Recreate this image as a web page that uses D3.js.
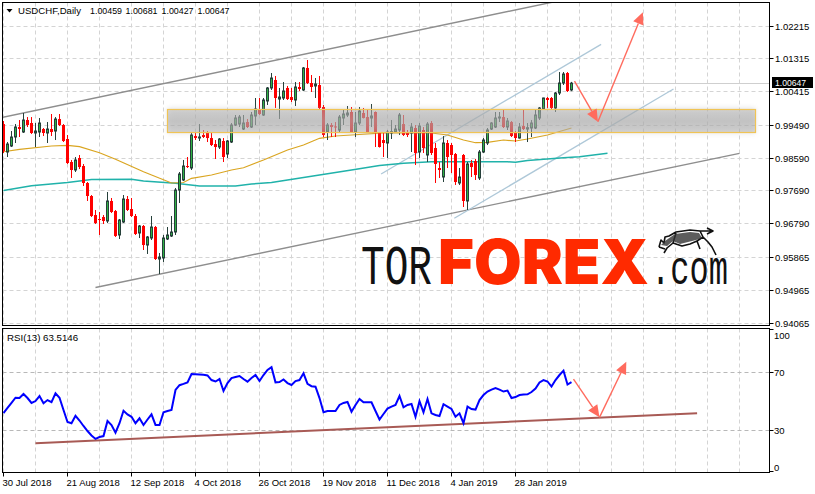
<!DOCTYPE html>
<html><head><meta charset="utf-8">
<script src="https://cdn.jsdelivr.net/npm/d3@7/dist/d3.min.js"></script>
<style>html,body{margin:0;padding:0;background:#fff;overflow:hidden}</style>
</head><body>
<svg id="c" width="815" height="494"></svg>
<script>
// ---------- DATA ----------
const symbolTitle = "USDCHF,Daily";
const titleValues = ["1.00459", "1.00681", "1.00427", "1.00647"];
const open  = [.99525,.98757,.98922,.99169,.99443,.99306,.99635,.99553,.99279,.99306,.99388,.99279,.99388,.99333,.99662,.99498,.99114,.98483,.98263,.98593,.98373,.97907,.97550,.97028,.96919,.96973,.96864,.97413,.97138,.96480,.96836,.97468,.97193,.97001,.96535,.96727,.96205,.96397,.96699,.95821,.95849,.96370,.96452,.96562,.97714,.97989,.98373,.98318,.99196,.99141,.99224,.99279,.99141,.98976,.98894,.99059,.98702,.99031,.99498,.99525,.99388,.99580,.99443,.99745,.99910,.99772,1.00157,1.00514,1.00733,1.00211,1.00239,1.00514,1.00266,1.00184,1.00541,1.00459,1.01063,1.00651,1.00569,1.00596,.99992,.99306,.99498,.99460,.99361,.99690,.99772,.99855,.99306,.99553,.99827,.99717,.99690,.99855,.99279,.99086,.99004,.99279,.99306,.99361,.99525,.99306,.99279,.99416,.98757,.99361,.98675,.99553,.98867,.98318,.98071,.99004,.98949,.98702,.97907,.98675,.97413,.98455,.98510,.98044,.98757,.99004,.99388,.99443,.99690,.99717,.99443,.99580,.99306,.99141,.99470,.99388,.99416,.99416,.99690,.99937,1.00239,1.00239,.99965,1.00376,1.00651,1.00925,1.00459];
const high  = [.99608,.99031,.99333,.99525,.99635,.99827,.99717,.99717,.99553,.99690,.99416,.99580,.99800,.99717,.99800,.99525,.99224,.98538,.98620,.98675,.98428,.97934,.97577,.97166,.97111,.97028,.97660,.97495,.97166,.96919,.97577,.97550,.97495,.97056,.96754,.96754,.96452,.97001,.96727,.95986,.96480,.96699,.97001,.97769,.98209,.98538,.98620,.99279,.99306,.99525,.99361,.99333,.99306,.99086,.99141,.99141,.99086,.99553,.99772,.99772,.99772,.99662,.99855,1.00239,1.00239,1.00239,1.00541,1.00925,1.00843,1.00514,1.00678,1.00569,1.00514,1.00678,1.00678,1.01090,1.01282,1.00870,1.00788,1.00843,1.00047,.99553,.99553,.99580,.99772,.99910,1.00019,.99992,.99855,.99992,.99965,.99910,1.00074,.99870,.99306,.99279,.99361,.99635,.99498,.99827,.99772,.99361,.99553,.99498,.99553,.99443,.99580,.99608,.99004,.98483,.99196,.99086,.99004,.98730,.98318,.98702,.98483,.98538,.98565,.98812,.99141,.99416,.99580,.99855,.99855,.99910,.99690,.99608,.99333,.99553,.99937,.99553,.99635,.99910,.99992,1.00247,1.00266,1.00266,1.00404,1.00952,1.00952,1.00952,1.00681];
const low   = [.98730,.98620,.98894,.99004,.99169,.99279,.99443,.99251,.98894,.99169,.99196,.99004,.99196,.99086,.99470,.99031,.98428,.98044,.98208,.98290,.97824,.97413,.96973,.96781,.96480,.96781,.96809,.97083,.96425,.96370,.96809,.97138,.96973,.96480,.96397,.96068,.95959,.96342,.95794,.95409,.95739,.96342,.96425,.96480,.97358,.97962,.98318,.98263,.99086,.99059,.99141,.99031,.98922,.98565,.98839,.98483,.98593,.99004,.99470,.99443,.99361,.99416,.99416,.99498,.99772,.99745,1.00047,1.00459,.99965,.99662,1.00184,1.00184,1.00129,1.00019,1.00431,1.00431,1.00623,1.00404,1.00239,.99937,.99169,.99086,.99169,.99169,.99279,.99498,.99717,.99279,.99169,.99498,.99677,.99279,.99443,.98894,.98880,.98620,.98593,.99114,.99279,.99224,.99196,.99169,.98757,.98400,.98593,.98730,.98483,.98675,.97907,.98044,.97934,.98318,.98181,.97852,.97852,.97248,.97166,.98071,.97989,.97989,.98730,.98949,.99361,.99416,.99580,.99416,.99361,.99169,.99031,.99127,.99361,.99031,.99169,.99388,.99635,.99910,.99965,.99910,.99855,1.00321,1.00596,1.00404,1.00427];
const close = [.98785,.98976,.99169,.99443,.99388,.99635,.99498,.99279,.99333,.99553,.99279,.99388,.99306,.99662,.99498,.99059,.98455,.98263,.98538,.98345,.97907,.97550,.97001,.96809,.96891,.96864,.97413,.97111,.96452,.96891,.97468,.97166,.97001,.96507,.96727,.96205,.96425,.96699,.95821,.95876,.96397,.96480,.96562,.97714,.98154,.98373,.98345,.99224,.99141,.99169,.99169,.99141,.98949,.98894,.99114,.98620,.99059,.99498,.99690,.99717,.99553,.99443,.99772,.99937,.99800,1.00184,1.00514,1.00788,1.00239,1.00266,1.00431,1.00211,1.00184,1.00541,1.00486,1.01063,1.00651,1.00541,1.00623,.99965,.99224,.99498,.99443,.99430,.99717,.99800,.99827,.99306,.99553,.99882,.99690,.99306,.99745,.99279,.98894,.99004,.99306,.99315,.99388,.99772,.99224,.99224,.99443,.98730,.99470,.98867,.99525,.98730,.98428,.98263,.99004,.98620,.98675,.97934,.98071,.97413,.98428,.98345,.98126,.98757,.99086,.99361,.99553,.99690,.99717,.99443,.99608,.99196,.99141,.99443,.99388,.99425,.99553,.99772,.99965,1.00239,1.00184,.99965,1.00376,1.00651,1.00898,1.00431,1.00647];
const rsi = [42.0,45.5,49.0,52.6,52.4,55.2,52.4,49.0,50.3,53.8,
48.8,51.0,49.6,55.7,52.6,44.1,35.8,34.9,40.1,36.8,
33.0,29.5,26.4,24.0,25.3,26.0,36.5,33.7,28.3,34.9,
43.6,41.0,39.4,34.9,38.3,33.7,37.5,41.1,33.7,33.7,
42.5,43.4,44.1,58.0,61.3,62.2,63.3,69.1,68.9,68.7,
68.5,68.1,64.9,63.9,65.6,57.3,62.8,66.3,67.0,67.7,
65.6,63.8,66.3,68.4,64.2,68.4,71.9,73.8,63.3,63.5,
65.3,62.8,61.5,64.2,64.9,69.6,62.2,60.6,60.3,52.4,
42.5,43.4,43.4,43.4,47.6,49.0,49.7,42.9,47.6,51.7,
49.4,49.4,49.4,43.4,37.5,41.3,45.1,46.5,47.6,53.8,
46.0,47.6,48.3,39.4,50.3,42.5,51.7,41.8,40.6,39.9,
48.1,46.5,44.8,39.4,41.8,34.9,46.5,44.8,44.4,51.0,
54.5,56.9,58.3,59.4,58.3,56.9,57.6,52.4,53.1,54.5,
54.9,55.0,56.6,59.0,63.2,64.9,63.9,60.4,64.9,68.4,
71.4,61.8,63.5];
const rsiLabel = "RSI(13) 63.5146";
const maFastIdx = [0,4,12,16,19,24,28,35,42,45,47,52,57,60,65,71,75,79,83,87,96,107,111,115,118,121,125,128,131,136,142];
const maFastVal = [0.98765,0.98831,0.98922,0.98941,0.98903,0.98738,0.98557,0.98217,0.97907,0.97920,0.98035,0.98126,0.98263,0.98326,0.98538,0.98812,0.98949,0.99133,0.99196,0.99224,0.99287,0.99279,0.99224,0.99086,0.99012,0.99023,0.99086,0.99059,0.99114,0.99224,0.99416];
const maSlowIdx = [0,7,16,22,32,35,43,49,58,62,67,71,79,87,94,100,107,115,126,128,131,140,144,151];
const maSlowVal = [0.97701,0.97830,0.97920,0.98003,0.98008,0.97961,0.97898,0.97824,0.97824,0.97879,0.97920,0.97989,0.98126,0.98263,0.98387,0.98447,0.98491,0.98491,0.98491,0.98475,0.98524,0.98601,0.98628,0.98721];
const priceTicks = [1.02215,1.01315,1.00415,0.99490,0.98590,0.97690,0.96790,0.95865,0.94965,0.94065];
const rsiTicks = [100,70,30,0];
const rsiLevels = [70,30];
const dateLabels = ["30 Jul 2018","21 Aug 2018","12 Sep 2018","4 Oct 2018","26 Oct 2018","19 Nov 2018","11 Dec 2018","4 Jan 2019","28 Jan 2019"];
const dateLabelIdx = [0,16,32,48,64,80,96,112,128];
const bidPrice = 1.00647;
// trend lines: [barIndex0, price0, barIndex1, price1]
const grayChannel = [[-1,0.99690,147,1.03093],[23,0.95039,184,0.98721]];
const blueChannel = [[94.4,0.98154,149.4,1.01712],[112.7,0.96938,167.5,1.00486]];
const zoneBox = [41,188,0.99937,0.99298];
const forecastMain = [[142.75,1.00705],[148.6,0.99589],[159.85,1.02590]];
const rsiSupport = [8,21.0,173.4,41.8];
const forecastRsi = [[142.5,65.6],[149,39.0],[155.7,77.6]];

// ---------- LAYOUT ----------
const L=2.5, R=769.5, MT=2.5, MB=325.5, RT=328.5, RB=472.5;
const FONT = "'Liberation Sans', Arial, sans-serif";
const x = d3.scaleLinear().domain([0,142]).range([3.5,571.5]);
const y = d3.scaleLinear().domain([0.94065,1.02215]).range([323,26]);
const yr = d3.scaleLinear().domain([0,100]).range([473.5,329.5]);
const px = v => Math.round(v-0.5)+0.5;

const svg = d3.select("#c");
svg.append("rect").attr("width",815).attr("height",494).attr("fill","#fff");
const defs = svg.append("defs");
defs.append("clipPath").attr("id","cm").append("rect").attr("x",L+0.5).attr("y",MT+0.5).attr("width",R-L-1).attr("height",MB-MT-1);
defs.append("clipPath").attr("id","cr").append("rect").attr("x",L+0.5).attr("y",RT+0.5).attr("width",R-L-1).attr("height",RB-RT-1);
const grad = defs.append("linearGradient").attr("id","zg").attr("x1",0).attr("y1",0).attr("x2",0).attr("y2",1);
grad.append("stop").attr("offset","0%").attr("stop-color","#a8a8a8").attr("stop-opacity",0.38);
grad.append("stop").attr("offset","50%").attr("stop-color","#a8a8a8").attr("stop-opacity",0.55);
grad.append("stop").attr("offset","100%").attr("stop-color","#a8a8a8").attr("stop-opacity",0.38);
const blur = defs.append("filter").attr("id","sh").attr("x","-5%").attr("y","-60%").attr("width","110%").attr("height","220%");
blur.append("feGaussianBlur").attr("stdDeviation",2.5);

const gm = svg.append("g").attr("clip-path","url(#cm)");
const gr = svg.append("g").attr("clip-path","url(#cr)");

// grid
const gridIdx = d3.range(0,24).map(k=>k*8);
[gm,gr].forEach((g,j)=>{
  g.selectAll(null).data(gridIdx).enter().append("line")
    .attr("x1",d=>px(x(d))).attr("x2",d=>px(x(d)))
    .attr("y1",j?RT:MT).attr("y2",j?RB:MB)
    .attr("stroke","#d4d4d4").attr("stroke-dasharray","4,3");
});
gm.selectAll(null).data(priceTicks).enter().append("line")
  .attr("x1",L).attr("x2",R).attr("y1",d=>px(y(d))).attr("y2",d=>px(y(d)))
  .attr("stroke","#d4d4d4").attr("stroke-dasharray","4,3");
gr.selectAll(null).data(rsiLevels).enter().append("line")
  .attr("x1",L).attr("x2",R).attr("y1",d=>px(yr(d))).attr("y2",d=>px(yr(d)))
  .attr("stroke","#b8b8b8").attr("stroke-dasharray","4,3");

// bid line
gm.append("line").attr("x1",L).attr("x2",R).attr("y1",px(y(bidPrice))).attr("y2",px(y(bidPrice)))
  .attr("stroke","#cfcfcf");

// logo (watermark)
const logo = gm.append("g");
logo.append("text").attr("transform","translate(361,283.5) scale(1,1.38)").text("TOR")
  .attr("font-family","'Liberation Mono','DejaVu Sans Mono',monospace").attr("font-size",40)
  .attr("fill","#111").attr("textLength",71).attr("lengthAdjust","spacingAndGlyphs");
logo.append("text").attr("x",438).attr("y",283.5).text("FOREX")
  .attr("font-family","Inter, Roboto, 'Open Sans', sans-serif").attr("font-weight",900).attr("font-size",62)
  .attr("fill","#ff2a00").attr("textLength",211).attr("lengthAdjust","spacingAndGlyphs");
logo.append("text").attr("transform","translate(651,283.5) scale(1,1.5)").text(".com")
  .attr("font-family","'Liberation Mono','DejaVu Sans Mono',monospace").attr("font-size",32)
  .attr("fill","#111").attr("textLength",77).attr("lengthAdjust","spacingAndGlyphs");
// bull emblem
logo.append("path")
  .attr("d","M659,247 L661,240 L664,243 L665,237 L669,236 L676,232 L690,230 L700,231 L712,231 M707,228 L713,231 L707,234 M700,231 L703,237 L708,242 L712,247 L716,255 M703,237 L697,241 L700,249 M676,233 L673,243 L667,248 L664,253 M673,243 L682,246 L690,244 L697,241 M659,247 L665,249")
  .attr("fill","none").attr("stroke","#111").attr("stroke-width",1.6).attr("stroke-linejoin","round");
logo.append("path")
  .attr("d","M665,241 L675,234 L690,232 L699,233 L702,238 L696,240 L688,242 L680,244 L673,241 L667,246 L661,245 Z")
  .attr("fill","#333").attr("opacity",0.8);

// trend lines
const tl = (g, arr, color, w) => g.selectAll(null).data(arr).enter().append("line")
  .attr("x1",d=>x(d[0])).attr("y1",d=>y(d[1])).attr("x2",d=>x(d[2])).attr("y2",d=>y(d[3]))
  .attr("stroke",color).attr("stroke-width",w);
tl(gm, grayChannel, "#8e8e8e", 1.4);
tl(gm, blueChannel, "#aec8d8", 1.3);

// moving averages
const lineM = d3.line().x(d=>x(d[0])).y(d=>y(d[1]));
gm.append("path").datum(maSlowIdx.map((d,i)=>[d,maSlowVal[i]])).attr("d",lineM)
  .attr("fill","none").attr("stroke","#20b2aa").attr("stroke-width",1.5);
gm.append("path").datum(maFastIdx.map((d,i)=>[d,maFastVal[i]])).attr("d",lineM)
  .attr("fill","none").attr("stroke","#daa520").attr("stroke-width",1.2);

// candles
const bars = d3.range(open.length);
const isUp = i => close[i] >= open[i];
gm.selectAll(null).data(bars).enter().append("line")
  .attr("x1",i=>x(i)).attr("x2",i=>x(i))
  .attr("y1",i=>y(high[i])).attr("y2",i=>y(low[i]))
  .attr("stroke",i=>isUp(i)?"#26403a":"#ff0000").attr("stroke-width",1);
gm.selectAll(null).data(bars).enter().append("rect")
  .attr("x",i=>isUp(i)?x(i)-1:x(i)-1.5)
  .attr("width",i=>isUp(i)?2:3)
  .attr("y",i=>y(Math.max(open[i],close[i])))
  .attr("height",i=>Math.max(1,Math.abs(y(open[i])-y(close[i]))))
  .attr("fill",i=>isUp(i)?"#2fb244":"#ff0000")
  .attr("stroke",i=>isUp(i)?"#26403a":"none").attr("stroke-width",1);

// zone box
const zx0=x(zoneBox[0]), zx1=x(zoneBox[1]), zy0=y(zoneBox[2]), zy1=y(zoneBox[3]);
gm.append("rect").attr("x",zx0).attr("y",zy0-1).attr("width",zx1-zx0).attr("height",zy1-zy0+2)
  .attr("fill","#b0b0b0").attr("opacity",0.35).attr("filter","url(#sh)");
gm.append("rect").attr("x",px(zx0)).attr("y",px(zy0)).attr("width",Math.round(zx1-zx0)).attr("height",Math.round(zy1-zy0))
  .attr("fill","url(#zg)").attr("stroke","#f0c455").attr("stroke-width",1.2);

// arrows
function arrows(g, pts, sx, sy){
  const P = pts.map(p=>[sx(p[0]),sy(p[1])]);
  const col="#ff6b5e";
  for(let k=1;k<P.length;k++){
    const a=P[k-1], b=P[k];
    const dx=b[0]-a[0], dy=b[1]-a[1], len=Math.hypot(dx,dy), ux=dx/len, uy=dy/len;
    const hl=12, hw=5.5;
    const bx=b[0]-ux*hl, by=b[1]-uy*hl;
    g.append("line").attr("x1",a[0]).attr("y1",a[1]).attr("x2",bx).attr("y2",by)
      .attr("stroke",col).attr("stroke-width",1.4);
    g.append("path").attr("d",`M${b[0]},${b[1]}L${bx-uy*hw},${by+ux*hw}L${bx+uy*hw},${by-ux*hw}Z`).attr("fill",col);
  }
}
arrows(gm, forecastMain, x, y);

// RSI panel
gr.append("line").attr("x1",x(rsiSupport[0])).attr("y1",yr(rsiSupport[1])).attr("x2",x(rsiSupport[2])).attr("y2",yr(rsiSupport[3]))
  .attr("stroke","#a85a55").attr("stroke-width",2);
gr.append("path").datum(rsi).attr("d",d3.line().x((d,i)=>x(i)).y(d=>yr(d)))
  .attr("fill","none").attr("stroke","#0000ff").attr("stroke-width",2);
arrows(gr, forecastRsi, x, yr);

// frames
svg.append("rect").attr("x",L).attr("y",MT).attr("width",R-L).attr("height",MB-MT).attr("fill","none").attr("stroke","#000");
svg.append("rect").attr("x",L).attr("y",RT).attr("width",R-L).attr("height",RB-RT).attr("fill","none").attr("stroke","#000");

// right axis, price
const ax = svg.append("g").attr("font-family",FONT).attr("font-size","9.5px").attr("fill","#000");
priceTicks.forEach(t=>{
  const yy=px(y(t));
  ax.append("line").attr("x1",R).attr("x2",R+4).attr("y1",yy).attr("y2",yy).attr("stroke","#000");
  ax.append("text").attr("x",775).attr("y",yy+3.5).text(t.toFixed(5));
});
const by = y(bidPrice);
ax.append("rect").attr("x",772).attr("y",Math.round(by)-6).attr("width",41).attr("height",11).attr("fill","#000");
ax.append("text").attr("x",775).attr("y",Math.round(by)+2.5).attr("fill","#fff").attr("font-size","8.6px").text(bidPrice.toFixed(5));

// right axis, RSI
rsiTicks.forEach(t=>{
  let yy=px(yr(t));
  ax.append("line").attr("x1",R).attr("x2",R+4).attr("y1",Math.min(Math.max(yy,RT+1),RB-1)).attr("y2",Math.min(Math.max(yy,RT+1),RB-1)).attr("stroke","#000");
  const ty = t===100 ? RT+10 : (t===0 ? RB-2 : yy+3.5);
  ax.append("text").attr("x",774).attr("y",ty).text(t);
});

// date axis
dateLabelIdx.forEach((d,i)=>{
  const xx=px(x(d));
  ax.append("line").attr("x1",xx).attr("x2",xx).attr("y1",RB).attr("y2",RB+4).attr("stroke","#000");
  ax.append("text").attr("x",xx-1).attr("y",486).text(dateLabels[i]);
});

// titles
const tt = svg.append("g").attr("font-family",FONT).attr("font-size","9.7px").attr("fill","#000");
tt.append("path").attr("d","M6.5,9 L12.5,9 L9.5,12.5 Z").attr("fill","#000");
tt.append("text").attr("x",18).attr("y",14).text(symbolTitle).attr("textLength",63).attr("lengthAdjust","spacingAndGlyphs");
const tx=[90,125.5,161.5,197.5];
titleValues.forEach((v,i)=>tt.append("text").attr("x",tx[i]).attr("y",14).text(v)
  .attr("textLength",32).attr("lengthAdjust","spacingAndGlyphs"));
tt.append("text").attr("x",7).attr("y",341).text(rsiLabel);
</script>
</body></html>
